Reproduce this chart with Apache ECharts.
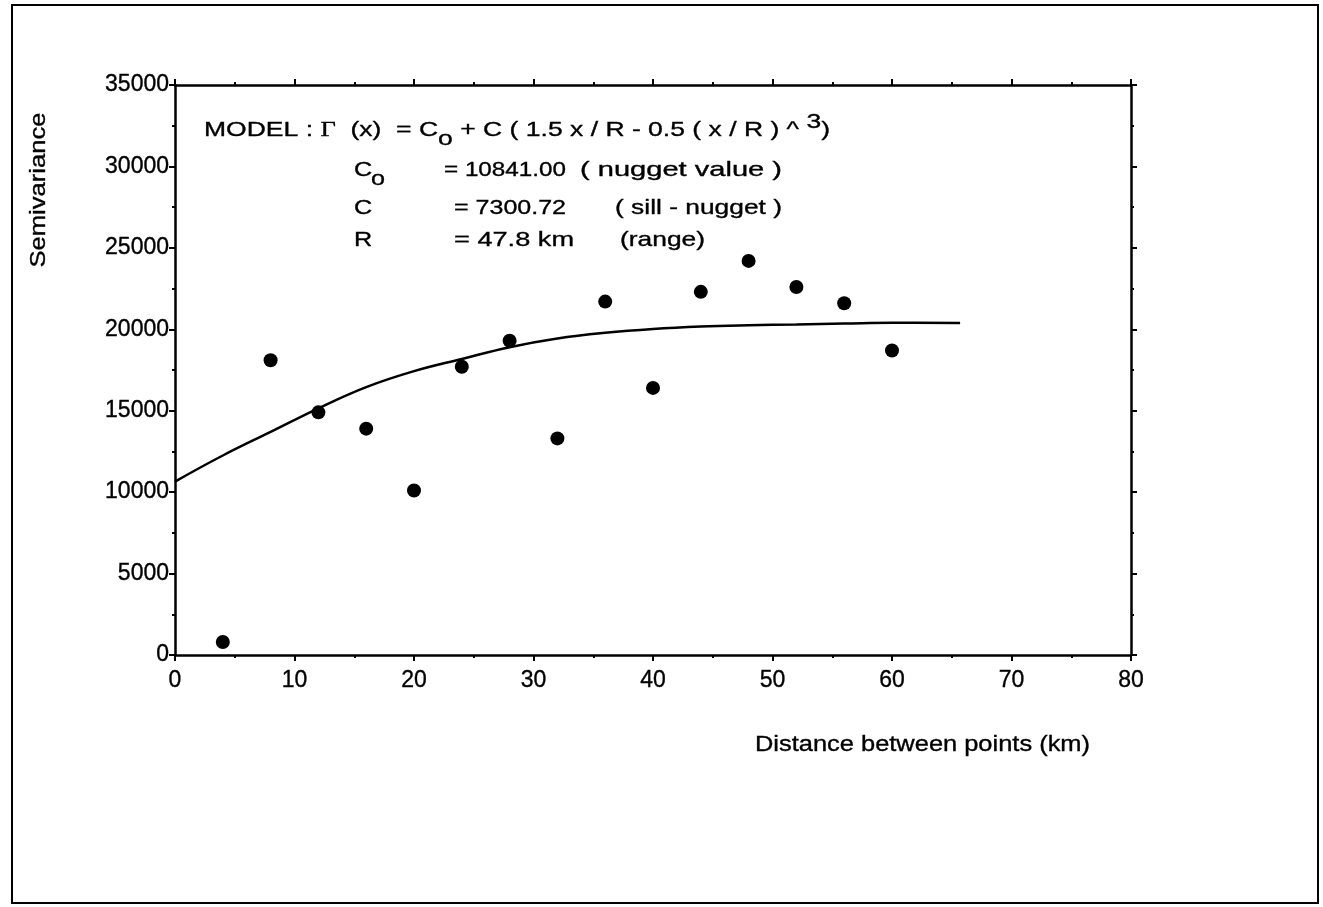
<!DOCTYPE html>
<html>
<head>
<meta charset="utf-8">
<title>Semivariogram</title>
<script src="https://cdn.jsdelivr.net/npm/echarts@6/dist/echarts.min.js"></script>
<style>
  html, body { margin: 0; padding: 0; background: #fff; }
  #chart { width: 1323px; height: 907px; }
</style>
</head>
<body>
<div id="chart"></div>
<script>
// Lag distances (km) and experimental semivariance
const distance = [4, 8, 12, 16, 20, 24, 28, 32, 36, 40, 44, 48, 52, 56, 60];
const semivariance = [800, 18100, 14900, 13900, 10100, 17700, 19300, 13300, 21700, 16400, 22300, 24200, 22600, 21600, 18700];

// Fitted spherical model curve, as plotted
const modelDistance = [0, 4, 8, 12, 16, 20, 24, 28, 32, 36, 40, 44, 48, 52, 56, 60, 65.7];
const modelValue = [10650, 12250, 13700, 15150, 16450, 17430, 18180, 18900, 19430, 19780, 20020, 20170, 20250, 20300, 20350, 20400, 20390];

// Axis ticks
const xTicks = [0, 10, 20, 30, 40, 50, 60, 70, 80];
const yTicks = [0, 5000, 10000, 15000, 20000, 25000, 30000, 35000];

const SANS = '"Liberation Sans", Arial, Helvetica, sans-serif';
const SERIF = '"Liberation Serif", "Times New Roman", serif';
const INK = '#000';

const chart = echarts.init(document.getElementById('chart'), null, { renderer: 'canvas' });

// Text measuring, used to stretch label text to the wide face of the plot lettering
const measureCtx = document.createElement('canvas').getContext('2d');
function textWidth(text, size, family) {
  measureCtx.font = size + 'px ' + family;
  return measureCtx.measureText(text).width;
}
function textEl(text, x, baseline, size, family, scaleX) {
  return {
    type: 'text', x: x, y: baseline - 0.31 * size, scaleX: scaleX, silent: true,
    style: { text: text, fontSize: size, fontFamily: family, fill: INK,
             stroke: INK, lineWidth: 0.35,
             textAlign: 'left', textVerticalAlign: 'middle' }
  };
}
// A text element spanning x0..x1 with its baseline at `baseline`
function fitText(text, x0, x1, baseline, size, family) {
  return textEl(text, x0, baseline, size, family, (x1 - x0) / textWidth(text, size, family));
}

// Model equation line: pieces laid out in sequence, stretched to one common width
const FS = 21;
const eqPieces = [
  { t: 'MODEL : ', f: SANS, dy: 0 },
  { t: '\u0393', f: SERIF, dy: 0 },
  { t: '  (x)  = C', f: SANS, dy: 0 },
  { t: 'o', f: SANS, dy: 9 },
  { t: ' + C ( 1.5 x / R - 0.5 ( x / R ) ^ ', f: SANS, dy: 0 },
  { t: '3', f: SANS, dy: -8 },
  { t: ')', f: SANS, dy: 0 }
];
function equationLine(x0, x1, baseline) {
  const widths = eqPieces.map(p => textWidth(p.t, FS, p.f));
  const total = widths.reduce((a, b) => a + b, 0);
  const s = (x1 - x0) / total;
  let x = x0;
  return eqPieces.map((p, i) => {
    const el = textEl(p.t, x, baseline + p.dy, FS, p.f, s);
    x += widths[i] * s;
    return el;
  });
}

const annotation = [].concat(
  equationLine(204, 830, 137),
  [
    textEl('C', 354, 177, FS, SANS, 1.2),
    textEl('o', 371, 186, FS, SANS, 1.2),
    fitText('= 10841.00', 444, 566, 177, FS, SANS),
    fitText('( nugget value )', 580, 782, 177, FS, SANS),

    textEl('C', 354, 215, FS, SANS, 1.2),
    fitText('= 7300.72', 454, 566, 215, FS, SANS),
    fitText('( sill - nugget )', 615, 782, 215, FS, SANS),

    textEl('R', 354, 247, FS, SANS, 1.2),
    fitText('= 47.8 km', 454, 574, 247, FS, SANS),
    fitText('(range)', 620, 705, 247, FS, SANS)
  ]
);

// Axis titles
const xTitle = fitText('Distance between points (km)', 755, 1090, 752, 22, SANS);
const yTitleSize = 22;
const yTitleW = textWidth('Semivariance', yTitleSize, SANS);
const yTitle = {
  type: 'text', x: 39, y: 190, rotation: Math.PI / 2, scaleX: 155 / yTitleW, silent: true,
  style: { text: 'Semivariance', fontSize: yTitleSize, fontFamily: SANS, fill: INK,
           stroke: INK, lineWidth: 0.35,
           textAlign: 'center', textVerticalAlign: 'middle' }
};

const axisLineStyle = { color: INK, width: 2.5 };
const tickStyle = { color: INK, width: 2 };
const tickLabel = {
  color: INK, fontSize: 23, fontFamily: SANS,
  textBorderColor: INK, textBorderWidth: 0.35,
  showMinLabel: true, showMaxLabel: true,
  formatter: v => String(v)
};

function xAxisDef(position, showLabels) {
  return {
    type: 'value', position: position, min: xTicks[0], max: xTicks[xTicks.length - 1],
    interval: xTicks[1] - xTicks[0],
    axisLine: { show: true, onZero: false, lineStyle: axisLineStyle },
    axisTick: { show: true, inside: false, length: 6, lineStyle: tickStyle },
    minorTick: { show: true, splitNumber: 2, length: 3, lineStyle: tickStyle },
    splitLine: { show: false }, minorSplitLine: { show: false },
    axisLabel: Object.assign({ show: showLabels, margin: 14 }, tickLabel)
  };
}
function yAxisDef(position, showLabels) {
  return {
    type: 'value', position: position, min: yTicks[0], max: yTicks[yTicks.length - 1],
    interval: yTicks[1] - yTicks[0],
    axisLine: { show: true, onZero: false, lineStyle: axisLineStyle },
    axisTick: { show: true, inside: false, length: 6, lineStyle: tickStyle },
    minorTick: { show: true, splitNumber: 2, length: 3, lineStyle: tickStyle },
    splitLine: { show: false }, minorSplitLine: { show: false },
    axisLabel: Object.assign({ show: showLabels, margin: 6 }, tickLabel)
  };
}

const option = {
  animation: false,
  backgroundColor: '#fff',
  grid: { left: 175, top: 85, width: 956, height: 570, containLabel: false, outerBoundsMode: 'none' },
  xAxis: [xAxisDef('bottom', true), xAxisDef('top', false)],
  yAxis: [yAxisDef('left', true), yAxisDef('right', false)],
  graphic: [
    {
      type: 'rect', silent: true, z: -1,
      shape: { x: 12, y: 5, width: 1306, height: 898 },
      style: { fill: 'none', stroke: INK, lineWidth: 2 }
    },
    xTitle,
    yTitle
  ].concat(annotation),
  series: [
    {
      type: 'line', name: 'model', xAxisIndex: 0, yAxisIndex: 0,
      data: modelDistance.map((d, i) => [d, modelValue[i]]),
      smooth: 0.4, showSymbol: false, symbol: 'none',
      lineStyle: { color: INK, width: 2.5 }, silent: true
    },
    {
      type: 'scatter', name: 'semivariance', xAxisIndex: 0, yAxisIndex: 0,
      data: distance.map((d, i) => [d, semivariance[i]]),
      symbol: 'circle', symbolSize: 14,
      itemStyle: { color: INK, opacity: 1 }, silent: true
    }
  ]
};

chart.setOption(option);
</script>
</body>
</html>
